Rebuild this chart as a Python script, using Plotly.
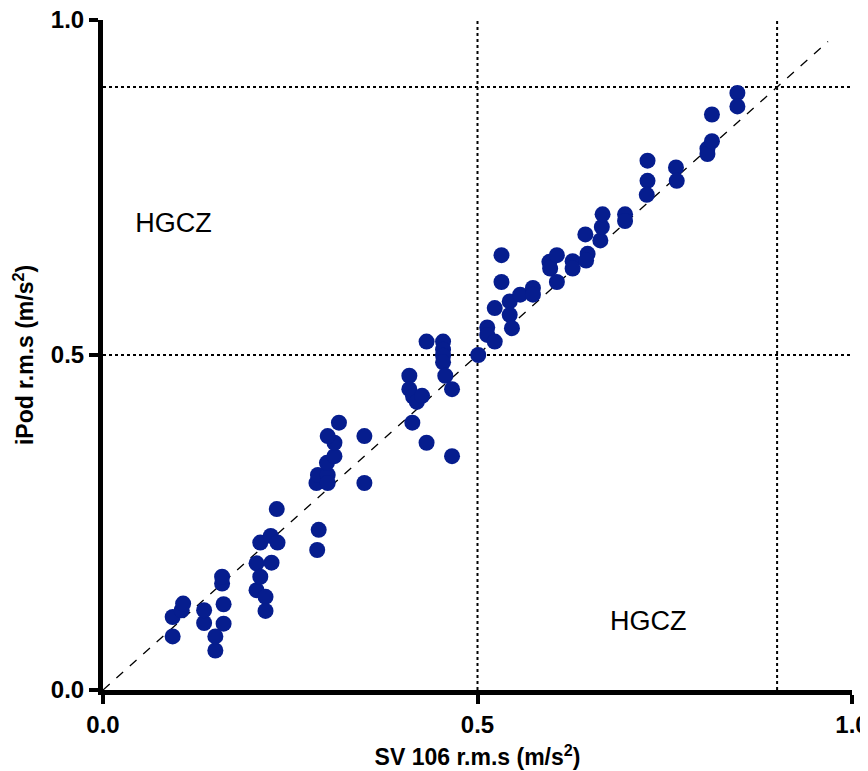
import plotly.graph_objects as go

sv106 = [0.093, 0.093, 0.105, 0.107, 0.135, 0.135, 0.150, 0.150, 0.159, 0.159,
         0.161, 0.161, 0.205, 0.205, 0.210, 0.210, 0.217, 0.217, 0.224, 0.225,
         0.232, 0.233,
         0.286, 0.288, 0.285, 0.287, 0.300, 0.300, 0.299, 0.309, 0.309, 0.300,
         0.315, 0.349, 0.349, 0.409, 0.409, 0.413, 0.414, 0.419, 0.426, 0.432,
         0.432, 0.454, 0.454, 0.454, 0.454, 0.457, 0.466, 0.466,
         0.501, 0.513, 0.513, 0.523, 0.523, 0.532, 0.532, 0.543, 0.543, 0.546,
         0.557, 0.574, 0.574, 0.596, 0.597, 0.606, 0.606, 0.627, 0.627, 0.644,
         0.647, 0.645, 0.664, 0.666, 0.667, 0.697, 0.697, 0.727, 0.727, 0.726,
         0.765, 0.766, 0.807, 0.807, 0.813, 0.813, 0.847, 0.847]
ipod = [0.080, 0.109, 0.119, 0.129, 0.100, 0.119, 0.059, 0.080, 0.159, 0.169,
        0.128, 0.099, 0.189, 0.149, 0.220, 0.169, 0.139, 0.118, 0.230, 0.190,
        0.270, 0.220,
        0.209, 0.239, 0.309, 0.321, 0.321, 0.309, 0.339, 0.349, 0.369, 0.379,
        0.399, 0.379, 0.309, 0.469, 0.449, 0.399, 0.438, 0.430, 0.439, 0.520,
        0.369, 0.520, 0.508, 0.499, 0.489, 0.469, 0.449, 0.349,
        0.500, 0.541, 0.530, 0.520, 0.570, 0.609, 0.649, 0.580, 0.560, 0.540,
        0.590, 0.600, 0.590, 0.639, 0.629, 0.649, 0.609, 0.640, 0.629, 0.680,
        0.651, 0.641, 0.671, 0.691, 0.710, 0.710, 0.700, 0.790, 0.760, 0.739,
        0.780, 0.760, 0.808, 0.800, 0.819, 0.859, 0.891, 0.871]

thresholds = [0.5, 0.9]
identity_line = [0.0, 0.968]
zone_labels = ["HGCZ", "HGCZ"]
zone_x = [0.094, 0.728]
zone_y = [0.694, 0.099]
tick_vals = [0.0, 0.5, 1.0]
tick_text = ["0.0", "0.5", "1.0"]

FONT = "Liberation Sans, Arial, sans-serif"
NAVY = "#061d8e"

fig = go.Figure()

for t in thresholds:
    fig.add_shape(type="line", xref="x", yref="paper", x0=t, x1=t, y0=0, y1=1,
                  line=dict(color="black", width=2, dash="dot"), layer="below")
    fig.add_shape(type="line", xref="paper", yref="y", x0=0, x1=1, y0=t, y1=t,
                  line=dict(color="black", width=2, dash="dot"), layer="below")

fig.add_trace(go.Scatter(x=identity_line, y=identity_line, mode="lines",
                         line=dict(color="black", width=1.3, dash="dash"),
                         showlegend=False, hoverinfo="skip"))

fig.add_trace(go.Scatter(x=sv106, y=ipod, mode="markers",
                         marker=dict(color=NAVY, size=16, line=dict(width=0)),
                         showlegend=False))

fig.add_trace(go.Scatter(x=zone_x, y=zone_y, mode="text", text=zone_labels,
                         textfont=dict(family=FONT, size=27, color="black"),
                         showlegend=False, hoverinfo="skip"))

axis_common = dict(
    range=[0, 1], tickvals=tick_vals, ticktext=tick_text,
    showgrid=False, zeroline=False, showline=True, linecolor="black",
    linewidth=5, ticks="outside", ticklen=9, tickwidth=4, tickcolor="black",
    ticklabeloverflow="allow",
    tickfont=dict(family=FONT, size=24, color="black", weight="bold"),
)

fig.update_xaxes(**axis_common,
                 title=dict(text="SV 106 r.m.s (m/s<sup>2</sup>)",
                            font=dict(family=FONT, size=23, color="black", weight="bold"),
                            standoff=14))
fig.update_yaxes(**axis_common,
                 title=dict(text="iPod r.m.s (m/s<sup>2</sup>)",
                            font=dict(family=FONT, size=23, color="black", weight="bold"),
                            standoff=12))

fig.update_layout(
    width=860, height=763,
    margin=dict(l=95, r=16, t=12, b=81, autoexpand=False),
    plot_bgcolor="white", paper_bgcolor="white",
    showlegend=False,
)

fig.write_html("out.html")
